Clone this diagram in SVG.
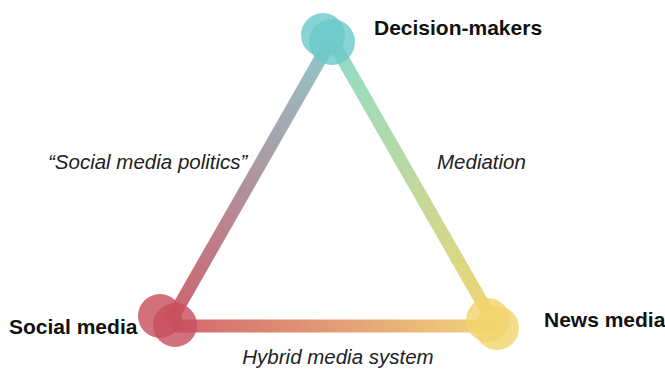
<svg xmlns="http://www.w3.org/2000/svg" width="665" height="369" viewBox="0 0 665 369">
<defs>
<linearGradient id="gL" gradientUnits="userSpaceOnUse" x1="330" y1="40" x2="170" y2="322">
<stop offset="0" stop-color="#8fc9cc"/><stop offset="1" stop-color="#d0606e"/>
</linearGradient>
<linearGradient id="gR" gradientUnits="userSpaceOnUse" x1="333" y1="42" x2="495" y2="325">
<stop offset="0" stop-color="#8fdccb"/><stop offset="1" stop-color="#f0d670"/>
</linearGradient>
<linearGradient id="gB" gradientUnits="userSpaceOnUse" x1="172" y1="326" x2="495" y2="326">
<stop offset="0" stop-color="#d26570"/><stop offset="1" stop-color="#f2d47a"/>
</linearGradient>
</defs>
<style>
.lbl{font-family:"Liberation Sans",Arial,sans-serif;font-weight:bold;font-size:21px;fill:#111}
.it{font-family:"Liberation Sans",Arial,sans-serif;font-style:italic;font-size:20.5px;fill:#222}
.c{opacity:0.82}
</style>
<g id="connectors" stroke-width="13" fill="none">
<line x1="330" y1="42" x2="170" y2="322" stroke="url(#gL)"/>
<line x1="333" y1="42" x2="495" y2="325" stroke="url(#gR)"/>
<line x1="172" y1="326" x2="495" y2="326" stroke="url(#gB)"/>
</g>
<g id="decision-makers">
<circle class="c" cx="323" cy="35" r="22" fill="#6ec9c9"/>
<circle class="c" cx="332" cy="42" r="23" fill="#6ec9c9"/>
<text class="lbl" x="374" y="35">Decision-makers</text>
</g>
<g id="social-media">
<circle class="c" cx="160" cy="316" r="22" fill="#c8505e"/>
<circle class="c" cx="175" cy="325" r="22" fill="#c8505e"/>
<text class="lbl" x="9" y="334">Social media</text>
</g>
<g id="news-media">
<circle class="c" cx="488" cy="320" r="22" fill="#f2d46e"/>
<circle class="c" cx="497" cy="328" r="22" fill="#f2d46e"/>
<text class="lbl" x="544" y="327">News media</text>
</g>
<g id="labels">
<text class="it" x="48" y="169">“Social media politics”</text>
<text class="it" x="437" y="169">Mediation</text>
<text class="it" x="338" y="364" text-anchor="middle">Hybrid media system</text>
</g>
</svg>
